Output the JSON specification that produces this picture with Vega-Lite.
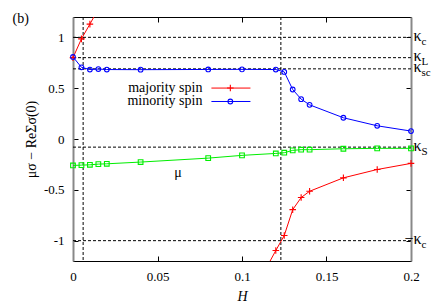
{
  "$schema": "https://vega.github.io/schema/vega-lite/v6.json",
  "width": 338,
  "height": 244,
  "autosize": {"type": "none"},
  "padding": {"left": 73, "top": 17, "right": 25, "bottom": 44},
  "config": {
    "font": "Times New Roman, Liberation Serif, serif",
    "view": {"stroke": null},
    "axis": {
      "grid": false,
      "labelFont": "Times New Roman, Liberation Serif, serif",
      "labelFontSize": 13,
      "labelColor": "black",
      "labelFlush": false,
      "labelOverlap": false,
      "titleFont": "Times New Roman, Liberation Serif, serif",
      "titleFontSize": 14,
      "titleFontWeight": "normal",
      "titleColor": "black",
      "tickColor": "black",
      "tickSize": -5,
      "domainColor": "black"
    }
  },
  "datasets": {
    "series": [
      {"s": "majority spin", "b": "a", "x": 0, "y": 0.80},
      {"s": "majority spin", "b": "a", "x": 0.005, "y": 0.985},
      {"s": "majority spin", "b": "a", "x": 0.01, "y": 1.13},
      {"s": "majority spin", "b": "a", "x": 0.015, "y": 1.28},
      {"s": "majority spin", "b": "b", "x": 0.115, "y": -1.25},
      {"s": "majority spin", "b": "b", "x": 0.12, "y": -1.097},
      {"s": "majority spin", "b": "b", "x": 0.125, "y": -0.949},
      {"s": "majority spin", "b": "b", "x": 0.13, "y": -0.695},
      {"s": "majority spin", "b": "b", "x": 0.135, "y": -0.576},
      {"s": "majority spin", "b": "b", "x": 0.14, "y": -0.514},
      {"s": "majority spin", "b": "b", "x": 0.16, "y": -0.382},
      {"s": "majority spin", "b": "b", "x": 0.18, "y": -0.30},
      {"s": "majority spin", "b": "b", "x": 0.2, "y": -0.24},
      {"s": "minority spin", "b": "a", "x": 0, "y": 0.807},
      {"s": "minority spin", "b": "a", "x": 0.005, "y": 0.705},
      {"s": "minority spin", "b": "a", "x": 0.01, "y": 0.683},
      {"s": "minority spin", "b": "a", "x": 0.015, "y": 0.688},
      {"s": "minority spin", "b": "a", "x": 0.02, "y": 0.683},
      {"s": "minority spin", "b": "a", "x": 0.04, "y": 0.682},
      {"s": "minority spin", "b": "a", "x": 0.08, "y": 0.684},
      {"s": "minority spin", "b": "a", "x": 0.1, "y": 0.685},
      {"s": "minority spin", "b": "a", "x": 0.12, "y": 0.683},
      {"s": "minority spin", "b": "a", "x": 0.125, "y": 0.66},
      {"s": "minority spin", "b": "a", "x": 0.13, "y": 0.487},
      {"s": "minority spin", "b": "a", "x": 0.135, "y": 0.392},
      {"s": "minority spin", "b": "a", "x": 0.14, "y": 0.336},
      {"s": "minority spin", "b": "a", "x": 0.16, "y": 0.209},
      {"s": "minority spin", "b": "a", "x": 0.18, "y": 0.13},
      {"s": "minority spin", "b": "a", "x": 0.2, "y": 0.078},
      {"s": "μ", "b": "a", "x": 0, "y": -0.26},
      {"s": "μ", "b": "a", "x": 0.005, "y": -0.257},
      {"s": "μ", "b": "a", "x": 0.01, "y": -0.254},
      {"s": "μ", "b": "a", "x": 0.015, "y": -0.247},
      {"s": "μ", "b": "a", "x": 0.02, "y": -0.244},
      {"s": "μ", "b": "a", "x": 0.04, "y": -0.227},
      {"s": "μ", "b": "a", "x": 0.08, "y": -0.188},
      {"s": "μ", "b": "a", "x": 0.1, "y": -0.161},
      {"s": "μ", "b": "a", "x": 0.12, "y": -0.142},
      {"s": "μ", "b": "a", "x": 0.125, "y": -0.135},
      {"s": "μ", "b": "a", "x": 0.13, "y": -0.112},
      {"s": "μ", "b": "a", "x": 0.135, "y": -0.105},
      {"s": "μ", "b": "a", "x": 0.14, "y": -0.105},
      {"s": "μ", "b": "a", "x": 0.16, "y": -0.096},
      {"s": "μ", "b": "a", "x": 0.18, "y": -0.092},
      {"s": "μ", "b": "a", "x": 0.2, "y": -0.092}
    ],
    "hlines": [
      {"y": 1, "k": "κ", "sub": "c"},
      {"y": 0.8, "k": "κ", "sub": "L"},
      {"y": 0.69, "k": "κ", "sub": "sc"},
      {"y": -0.08, "k": "κ", "sub": "S"},
      {"y": -1, "k": "−κ", "sub": "c"}
    ],
    "vlines": [{"x": 0.006}, {"x": 0.123}],
    "legend": [
      {"s": "majority spin", "x": 0.0819, "x2": 0.105, "xm": 0.0931, "xt": 0.0766, "y": 0.501},
      {"s": "minority spin", "x": 0.0819, "x2": 0.105, "xm": 0.0931, "xt": 0.0766, "y": 0.369}
    ],
    "notes": [
      {"t": "(b)", "x": -0.0309, "y": 1.176},
      {"t": "μ", "x": 0.0622, "y": -0.33}
    ]
  },
  "layer": [
    {
      "data": {"name": "hlines"},
      "mark": {"type": "rule", "strokeDash": [3, 2], "color": "black", "strokeWidth": 1},
      "encoding": {
        "y": {"field": "y", "type": "quantitative", "scale": {"domain": [-1.2, 1.2], "nice": false, "zero": false},
          "axis": {"orient": "right", "labels": false, "title": null, "values": [-1, -0.5, 0, 0.5, 1], "domainColor": "#888888", "domainWidth": 2}}
      }
    },
    {
      "data": {"name": "vlines"},
      "mark": {"type": "rule", "strokeDash": [3, 2], "color": "black", "strokeWidth": 1},
      "encoding": {
        "x": {"field": "x", "type": "quantitative", "scale": {"domain": [0, 0.2], "nice": false, "zero": false},
          "axis": {"orient": "top", "labels": false, "title": null, "values": [0, 0.05, 0.1, 0.15, 0.2]}}
      }
    },
    {
      "data": {"name": "series"},
      "mark": {"type": "line", "clip": true, "strokeWidth": 1},
      "encoding": {
        "x": {"field": "x", "type": "quantitative", "scale": {"domain": [0, 0.2], "nice": false, "zero": false},
          "axis": {"orient": "bottom", "title": "H", "titleFontStyle": "italic", "values": [0, 0.05, 0.1, 0.15, 0.2], "labelPadding": 14, "titlePadding": 6,
            "labelExpr": "format(datum.value, '')"}},
        "y": {"field": "y", "type": "quantitative", "scale": {"domain": [-1.2, 1.2], "nice": false, "zero": false},
          "axis": {"orient": "left", "title": "μσ − ReΣσ(0)", "values": [-1, -0.5, 0, 0.5, 1], "labelPadding": 14,
            "labelExpr": "datum.value < 0 ? '-' + format(-datum.value, '') : format(datum.value, '')",
            "domainColor": "#888888", "domainWidth": 2, "titlePadding": 5}},
        "color": {"field": "s", "type": "nominal", "legend": null,
          "scale": {"domain": ["majority spin", "minority spin", "μ"], "range": ["#ff0000", "#0000ff", "#00ee00"]}},
        "detail": {"field": "b"}
      }
    },
    {
      "data": {"name": "series"},
      "transform": [{"filter": {"field": "y", "range": [-1.2, 1.2]}}],
      "mark": {"type": "point", "filled": false, "strokeWidth": 1.1, "size": 22, "opacity": 1},
      "encoding": {
        "x": {"field": "x", "type": "quantitative", "scale": {"domain": [0, 0.2], "nice": false, "zero": false}, "axis": null},
        "y": {"field": "y", "type": "quantitative", "scale": {"domain": [-1.2, 1.2], "nice": false, "zero": false}, "axis": null},
        "color": {"field": "s", "type": "nominal", "legend": null},
        "shape": {"field": "s", "type": "nominal", "legend": null,
          "scale": {"domain": ["majority spin", "minority spin", "μ"], "range": ["M-1.4,0L1.4,0M0,-1.4L0,1.4", "circle", "square"]}}
      }
    },
    {
      "data": {"name": "legend"},
      "mark": {"type": "rule", "strokeWidth": 1},
      "encoding": {
        "x": {"field": "x", "type": "quantitative", "scale": {"domain": [0, 0.2], "nice": false, "zero": false}, "axis": null},
        "x2": {"field": "x2"},
        "y": {"field": "y", "type": "quantitative", "scale": {"domain": [-1.2, 1.2], "nice": false, "zero": false}, "axis": null},
        "color": {"field": "s", "type": "nominal", "legend": null}
      }
    },
    {
      "data": {"name": "legend"},
      "mark": {"type": "point", "filled": false, "strokeWidth": 1.1, "size": 22, "opacity": 1},
      "encoding": {
        "x": {"field": "xm", "type": "quantitative", "scale": {"domain": [0, 0.2], "nice": false, "zero": false}, "axis": null},
        "y": {"field": "y", "type": "quantitative", "scale": {"domain": [-1.2, 1.2], "nice": false, "zero": false}, "axis": null},
        "color": {"field": "s", "type": "nominal", "legend": null},
        "shape": {"field": "s", "type": "nominal", "legend": null}
      }
    },
    {
      "data": {"name": "legend"},
      "mark": {"type": "text", "align": "right", "baseline": "middle", "fontSize": 14, "font": "Times New Roman, Liberation Serif, serif", "color": "black"},
      "encoding": {
        "x": {"field": "xt", "type": "quantitative", "scale": {"domain": [0, 0.2], "nice": false, "zero": false}, "axis": null},
        "y": {"field": "y", "type": "quantitative", "scale": {"domain": [-1.2, 1.2], "nice": false, "zero": false}, "axis": null},
        "text": {"field": "s"}
      }
    },
    {
      "data": {"name": "notes"},
      "mark": {"type": "text", "align": "center", "baseline": "middle", "fontSize": 14, "font": "Times New Roman, Liberation Serif, serif", "color": "black", "clip": false},
      "encoding": {
        "x": {"field": "x", "type": "quantitative", "scale": {"domain": [0, 0.2], "nice": false, "zero": false}, "axis": null},
        "y": {"field": "y", "type": "quantitative", "scale": {"domain": [-1.2, 1.2], "nice": false, "zero": false}, "axis": null},
        "text": {"field": "t"}
      }
    },
    {
      "data": {"name": "hlines"},
      "mark": {"type": "text", "align": "right", "baseline": "alphabetic", "dx": 10.5, "dy": 3.5, "fontSize": 16, "font": "Times New Roman, Liberation Serif, serif", "color": "black"},
      "encoding": {
        "x": {"datum": 0.2, "type": "quantitative", "scale": {"domain": [0, 0.2], "nice": false, "zero": false}, "axis": null},
        "y": {"field": "y", "type": "quantitative", "scale": {"domain": [-1.2, 1.2], "nice": false, "zero": false}, "axis": null},
        "text": {"field": "k"}
      }
    },
    {
      "data": {"name": "hlines"},
      "mark": {"type": "text", "align": "left", "baseline": "alphabetic", "dx": 10.5, "dy": 7.5, "fontSize": 11, "font": "Times New Roman, Liberation Serif, serif", "color": "black"},
      "encoding": {
        "x": {"datum": 0.2, "type": "quantitative", "scale": {"domain": [0, 0.2], "nice": false, "zero": false}, "axis": null},
        "y": {"field": "y", "type": "quantitative", "scale": {"domain": [-1.2, 1.2], "nice": false, "zero": false}, "axis": null},
        "text": {"field": "sub"}
      }
    }
  ]
}
